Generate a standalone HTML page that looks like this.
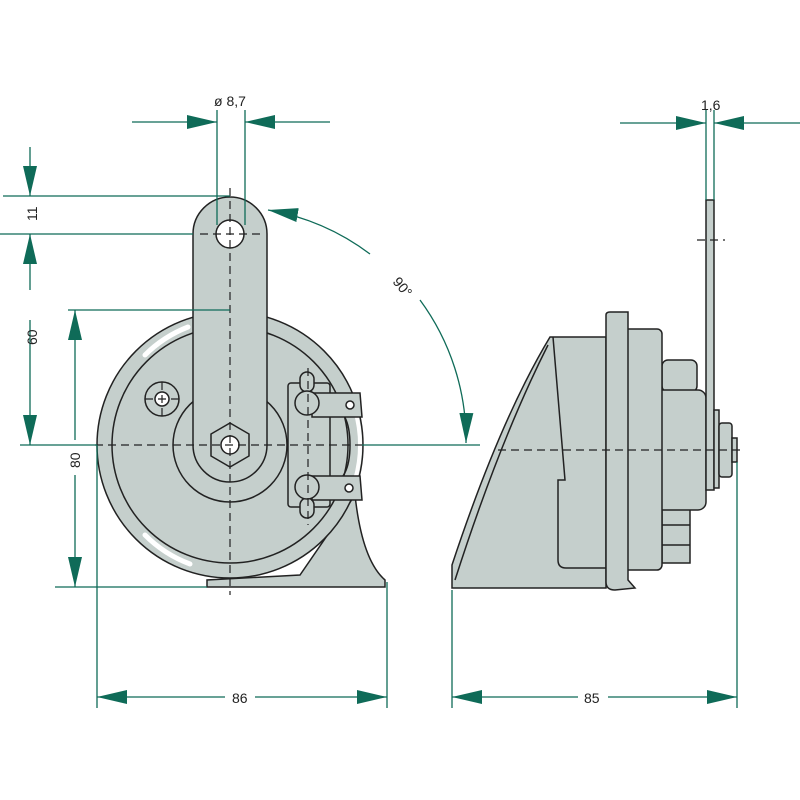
<!DOCTYPE html>
<html><head><meta charset="utf-8"><style>
html,body{margin:0;padding:0;background:#fff;}
svg{display:block;}
text{font-family:"Liberation Sans",sans-serif;font-size:14px;fill:#222;}
</style></head><body>
<svg width="800" height="800" viewBox="0 0 800 800" xmlns="http://www.w3.org/2000/svg">
<defs>
<marker id="a" viewBox="0 0 30 14" refX="30" refY="7" markerWidth="30" markerHeight="14" markerUnits="userSpaceOnUse" orient="auto"><path d="M0,0 L30,7 L0,14 Z" fill="#0f6b58"/></marker>
</defs>
<g fill="#c5cfcc" stroke="#222" stroke-width="1.5">
<!-- left view -->
<path d="M355,495 Q362,560 385,580 L385,587 L207,587 L207,580 L300,575 Z"/>
<circle cx="230" cy="445" r="133"/>
<circle cx="230" cy="445" r="118" fill="none"/>
<path d="M145,355 A125,125 0 0 1 188,327" stroke="#fff" stroke-width="5" stroke-linecap="round" fill="none"/>
<path d="M145,535 A125,125 0 0 0 190,564" stroke="#fff" stroke-width="5" stroke-linecap="round" fill="none"/>
<path d="M355,410 A126,126 0 0 1 355,480" stroke="#fff" stroke-width="4" stroke-linecap="round" fill="none"/>
<circle cx="230" cy="445" r="57" fill="none"/>
<path d="M193,234 A37,37 0 0 1 267,234 L267,445 A37,37 0 0 1 193,445 Z"/>
<circle cx="230" cy="234" r="14" fill="#fff"/>
<polygon points="230,423 249,434 249,456 230,467 211,456 211,434"/>
<circle cx="230" cy="445" r="9" fill="#fff"/>
<circle cx="162" cy="399" r="17" fill="none"/>
<circle cx="162" cy="399" r="7" fill="#fff"/>
<rect x="288" y="383" width="42" height="124" rx="3"/>
<path d="M330,405 Q350,410 350,445 Q350,480 330,485" fill="none"/>
<rect x="300" y="372" width="14" height="20" rx="7"/>
<rect x="300" y="498" width="14" height="20" rx="7"/>
<path d="M312,393 L360,393 L362,417 L312,417 Z"/>
<path d="M312,476 L360,476 L362,500 L312,500 Z"/>
<circle cx="307" cy="403" r="12"/>
<circle cx="307" cy="487" r="12"/>
<circle cx="350" cy="405" r="4" fill="#fff"/>
<circle cx="349" cy="488" r="4" fill="#fff"/>
<!-- right view -->
<path d="M452,588 L452,565 Q500,420 550,337 L606,337 L606,588 Z"/>
<path d="M553,337 L565,480 L558,480 L558,560 Q558,568 566,568 L606,568" fill="none"/>
<path d="M548,345 Q500,440 455,580" fill="none"/>
<rect x="662" y="360" width="35" height="32" rx="6"/>
<rect x="662" y="508" width="28" height="55"/>
<line x1="662" y1="525" x2="690" y2="525"/><line x1="662" y1="545" x2="690" y2="545"/>
<rect x="655" y="390" width="51" height="120" rx="8"/>
<rect x="622" y="329" width="40" height="241" rx="5"/>
<path d="M606,315 Q606,312 610,312 L628,312 L628,580 L635,588 L615,590 Q606,590 606,582 Z"/>
<rect x="706" y="200" width="8" height="290"/>
<rect x="714" y="410" width="5" height="78"/>
<rect x="719" y="423" width="13" height="54" rx="3"/>
<rect x="732" y="438" width="5" height="24"/>
</g>
<!-- centerlines -->
<g stroke="#222" stroke-width="1.2" stroke-dasharray="8,5" fill="none">
<line x1="230" y1="188" x2="230" y2="595"/>
<line x1="95" y1="445" x2="362" y2="445"/>
<line x1="200" y1="234" x2="262" y2="234"/>
<line x1="308" y1="368" x2="308" y2="525"/>
<line x1="145" y1="399" x2="180" y2="399"/>
<line x1="162" y1="382" x2="162" y2="418"/>
<line x1="498" y1="450" x2="745" y2="450"/>
<line x1="697" y1="240" x2="725" y2="240"/>
</g>
<!-- dimensions -->
<g stroke="#0f6b58" stroke-width="1.3" fill="none">
<line x1="217" y1="110" x2="217" y2="225"/>
<line x1="245" y1="110" x2="245" y2="225"/>
<line x1="132" y1="122" x2="217" y2="122" marker-end="url(#a)"/>
<line x1="330" y1="122" x2="245" y2="122" marker-end="url(#a)"/>
<line x1="3" y1="196" x2="230" y2="196"/>
<line x1="0" y1="234" x2="193" y2="234"/>
<line x1="30" y1="147" x2="30" y2="196" marker-end="url(#a)"/>
<line x1="30" y1="290" x2="30" y2="234" marker-end="url(#a)"/>
<line x1="30" y1="320" x2="30" y2="445" marker-end="url(#a)"/>
<line x1="20" y1="445" x2="97" y2="445"/>
<line x1="362" y1="445" x2="480" y2="445"/>
<line x1="68" y1="310" x2="230" y2="310"/>
<line x1="55" y1="587" x2="207" y2="587"/>
<line x1="75" y1="440" x2="75" y2="310" marker-end="url(#a)"/>
<line x1="75" y1="475" x2="75" y2="587" marker-end="url(#a)"/>
<line x1="97" y1="445" x2="97" y2="708"/>
<line x1="387" y1="582" x2="387" y2="708"/>
<line x1="225" y1="697" x2="97" y2="697" marker-end="url(#a)"/>
<line x1="255" y1="697" x2="387" y2="697" marker-end="url(#a)"/>
<line x1="452" y1="590" x2="452" y2="708"/>
<line x1="737" y1="462" x2="737" y2="708"/>
<line x1="578" y1="697" x2="452" y2="697" marker-end="url(#a)"/>
<line x1="608" y1="697" x2="737" y2="697" marker-end="url(#a)"/>
<line x1="706" y1="110" x2="706" y2="200"/>
<line x1="714" y1="110" x2="714" y2="200"/>
<line x1="620" y1="123" x2="706" y2="123" marker-end="url(#a)"/>
<line x1="800" y1="123" x2="714" y2="123" marker-end="url(#a)"/>
<path d="M370,254 A236,236 0 0 0 268,210" marker-end="url(#a)"/>
<path d="M420,300 A236,236 0 0 1 466,443" marker-end="url(#a)"/>
</g>
<text x="214" y="106">ø 8,7</text>
<text x="701" y="110">1,6</text>
<text x="232" y="703">86</text>
<text x="584" y="703">85</text>
<text transform="translate(37,221) rotate(-90)">11</text>
<text transform="translate(37,345) rotate(-90)">60</text>
<text transform="translate(80,468) rotate(-90)">80</text>
<text transform="translate(392,282) rotate(50)">90°</text>
</svg>
</body></html>
